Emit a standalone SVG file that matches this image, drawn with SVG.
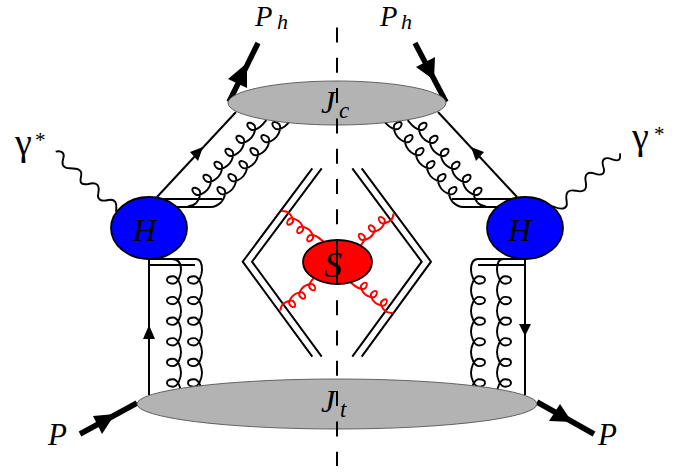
<svg xmlns="http://www.w3.org/2000/svg" xmlns:xlink="http://www.w3.org/1999/xlink" width="688" height="472" viewBox="0 0 688 472">
<style>
.l{fill:none;stroke:#000;stroke-width:2}
.g{fill:none;stroke:#000;stroke-width:1.9}
.r{fill:none;stroke:#f00;stroke-width:2}
.thick{fill:none;stroke:#000;stroke-width:5.5}
.a{fill:#000;stroke:none}
.jet{fill:#b3b3b3;stroke:#555;stroke-width:.9}
.hard{fill:#00f;stroke:#000;stroke-width:1.8}
.soft{fill:#f00;stroke:#000;stroke-width:1.8}
text{font-family:"Liberation Serif","Times New Roman",serif;fill:#000}
.i{font-style:italic}
</style>
<defs>
<path id="gv" d="M0,0c5,0 14,-3 14,-8c0,-4 -2,-6 -3.7,-6c-1.8,0 -3.7,2 -3.7,6c0,5 9,8 14,8c5,0 14,-3 14,-8c0,-4 -2,-6 -3.7,-6c-1.8,0 -3.7,2 -3.7,6c0,5 9,8 14,8c5,0 14,-3 14,-8c0,-4 -2,-6 -3.7,-6c-1.8,0 -3.7,2 -3.7,6c0,5 9,8 14,8c5,0 14,-3 14,-8c0,-4 -2,-6 -3.7,-6c-1.8,0 -3.7,2 -3.7,6c0,5 9,8 14,8c5,0 14,-3 14,-8c0,-4 -2,-6 -3.7,-6c-1.8,0 -3.7,2 -3.7,6c0,5 9,8 14,8c5,0 14,-3 14,-8c0,-4 -2,-6 -3.7,-6c-1.8,0 -3.7,2 -3.7,6c0,5 9,8 14,8"/>
<path id="gd" d="M0,0c4,0 11.5,-2.5 11.5,-6.8c0,-3 -1.5,-5.2 -3,-5.2c-1.5,0 -3,2.2 -3,5.2c0,4.3 7.5,6.8 11.5,6.8c4,0 11.5,-2.5 11.5,-6.8c0,-3 -1.5,-5.2 -3,-5.2c-1.5,0 -3,2.2 -3,5.2c0,4.3 7.5,6.8 11.5,6.8c4,0 11.5,-2.5 11.5,-6.8c0,-3 -1.5,-5.2 -3,-5.2c-1.5,0 -3,2.2 -3,5.2c0,4.3 7.5,6.8 11.5,6.8c4,0 11.5,-2.5 11.5,-6.8c0,-3 -1.5,-5.2 -3,-5.2c-1.5,0 -3,2.2 -3,5.2c0,4.3 7.5,6.8 11.5,6.8c4,0 11.5,-2.5 11.5,-6.8c0,-3 -1.5,-5.2 -3,-5.2c-1.5,0 -3,2.2 -3,5.2c0,4.3 7.5,6.8 11.5,6.8c4,0 11.5,-2.5 11.5,-6.8c0,-3 -1.5,-5.2 -3,-5.2c-1.5,0 -3,2.2 -3,5.2c0,4.3 7.5,6.8 11.5,6.8l6,0"/>
<path id="gs" d="M-7,-3.5Q-3.5,0 0,0c3,0 9,-2 9,-5c0,-2.6 -1.3,-4.5 -2.5,-4.5c-1.2,0 -2.5,1.9 -2.5,4.5c0,3 6,5 9,5c3,0 9,-2 9,-5c0,-2.6 -1.3,-4.5 -2.5,-4.5c-1.2,0 -2.5,1.9 -2.5,4.5c0,3 6,5 9,5c3,0 9,-2 9,-5c0,-2.6 -1.3,-4.5 -2.5,-4.5c-1.2,0 -2.5,1.9 -2.5,4.5c0,3 6,5 9,5l7,0"/>
<g id="upper">
<path class="l" d="M157,197L236,112"/>
<polygon class="a" points="203,147 190,152 198,161"/>
<path class="l" d="M163,199H222"/>
<path class="l" d="M177,207H211Q216,207 221.5,202"/>
<path class="g" d="M188,206.5Q193,206 196.5,202.7"/>
<use href="#gd" class="g" transform="matrix(.647 -.765 .765 .647 196.5 202.7)"/>
<use href="#gd" class="g" transform="matrix(.647 -.765 .765 .647 221.5 202)"/>
</g>
</defs>
<g id="connectors">
<use href="#upper"/>
<use href="#upper" transform="matrix(-1 0 0 1 674 0)"/>
<path class="thick" d="M229,102L258,43"/>
<polygon class="a" points="247,63 228,79 247,88"/>
<path class="thick" d="M415,43L446,102"/>
<polygon class="a" points="435,57 416,67 434,80"/>
<path class="thick" d="M80,434L137,403"/>
<polygon class="a" points="93,416 102,434 115,414"/>
<path class="thick" d="M537,402L594,434"/>
<polygon class="a" points="560,404 549,421 572,422"/>
<path class="l" d="M149,259V395"/>
<polygon class="a" points="149,325 143,339 155,339"/>
<path class="l" d="M525,259V395"/>
<polygon class="a" points="525,336 519,324 531,324"/>
<path class="l" d="M149,265H195"/>
<path class="l" d="M149,259H196Q202,259 202,270"/>
<path class="l" d="M172,259Q181,259 181,270"/>
<path class="l" d="M525,265H478"/>
<path class="l" d="M525,259H478Q471,259 471,270"/>
<path class="l" d="M503,259Q497,259 497,270"/>
<use href="#gv" class="g" transform="matrix(0 1 1 0 181 269.7)"/>
<use href="#gv" class="g" transform="matrix(0 1 1 0 202 269.7)"/>
<use href="#gv" class="g" transform="matrix(0 1 -1 0 471 269.7)"/>
<use href="#gv" class="g" transform="matrix(0 1 -1 0 497 269.7)"/>
<path class="g" d="M55.7,151.7C61.7,150 65,153.3 63.3,158.3C61.7,163.3 61.7,168.3 70,168.3C78.3,168.3 82.7,170 81,176.7C79.3,183.3 81.7,185 88.3,184C96.7,181.7 100,185 98.3,193.3C96.7,200 101.7,201.7 108.3,200C115,199 117.3,201.7 116,211.7"/>
<path class="g" d="M552.3,206C560.7,210 568,210 566.7,201.7C564.7,191.7 569,189.3 575.7,190.7C584,192.7 587.3,190 585.7,181.7C584,173.3 589,171.7 594,173.3C602.3,176.7 605.7,173.3 603.3,166.7C600.7,158.3 605.7,156.7 612.3,159.3C619,161.7 620.7,160 620,153.3"/>
<path class="l" d="M312.3,168.3L242.7,261.7L312.3,356.7"/>
<path class="l" d="M321.7,168.3L252,261.7L321.7,356.7"/>
<path class="l" d="M352.3,168.3L421.7,261.7L352.3,356.7"/>
<path class="l" d="M361.7,168.3L431,261.7L361.7,356.7"/>
<use href="#gs" class="r" transform="matrix(.77 .64 .64 -.77 288.8 212.9)"/>
<use href="#gs" class="r" transform="matrix(-.77 -.64 -.64 .77 385.2 311.1)"/>
<use href="#gs" class="r" transform="matrix(-.77 .64 .64 .77 390.5 220.5)"/>
<use href="#gs" class="r" transform="matrix(.77 -.64 -.64 -.77 283.5 303.5)"/>
</g>
<g id="Jc"><ellipse class="jet" cx="337" cy="103" rx="109" ry="22"/><text class="i" x="321" y="113" font-size="32">J</text><text class="i" x="339" y="118" font-size="23">c</text></g>
<g id="Jt"><ellipse class="jet" cx="337" cy="404" rx="200" ry="25"/><text class="i" x="321" y="412" font-size="32">J</text><text class="i" x="340" y="417" font-size="23">t</text></g>
<g id="H-left"><ellipse class="hard" cx="149" cy="228" rx="38" ry="31"/><text class="i" x="133" y="241" font-size="32">H</text></g>
<g id="H-right"><ellipse class="hard" cx="525" cy="228" rx="38" ry="31"/><text class="i" x="508" y="241" font-size="32">H</text></g>
<g id="S"><ellipse class="soft" cx="337.5" cy="262" rx="34.5" ry="22"/><text class="i" x="324" y="277" font-size="36">S</text></g>
<g id="cut">
<path d="M337,27.5V466" fill="none" stroke="#000" stroke-width="2" stroke-dasharray="15 15.3"/>
<path d="M337,240V285" fill="none" stroke="#000" stroke-width="2"/>
</g>
<g id="labels">
<text class="i" x="255" y="25.5" font-size="28.5">P</text><text class="i" x="277" y="29" font-size="22">h</text>
<text class="i" x="380" y="25.5" font-size="28.5">P</text><text class="i" x="401" y="29" font-size="22">h</text>
<text class="i" x="48" y="445" font-size="31">P</text>
<text class="i" x="598" y="445" font-size="31">P</text>
<text x="15" y="155" font-size="38">γ</text><text x="35" y="147" font-size="21">*</text>
<text x="632" y="149" font-size="38">γ</text><text x="654" y="141" font-size="21">*</text>
</g>
</svg>
